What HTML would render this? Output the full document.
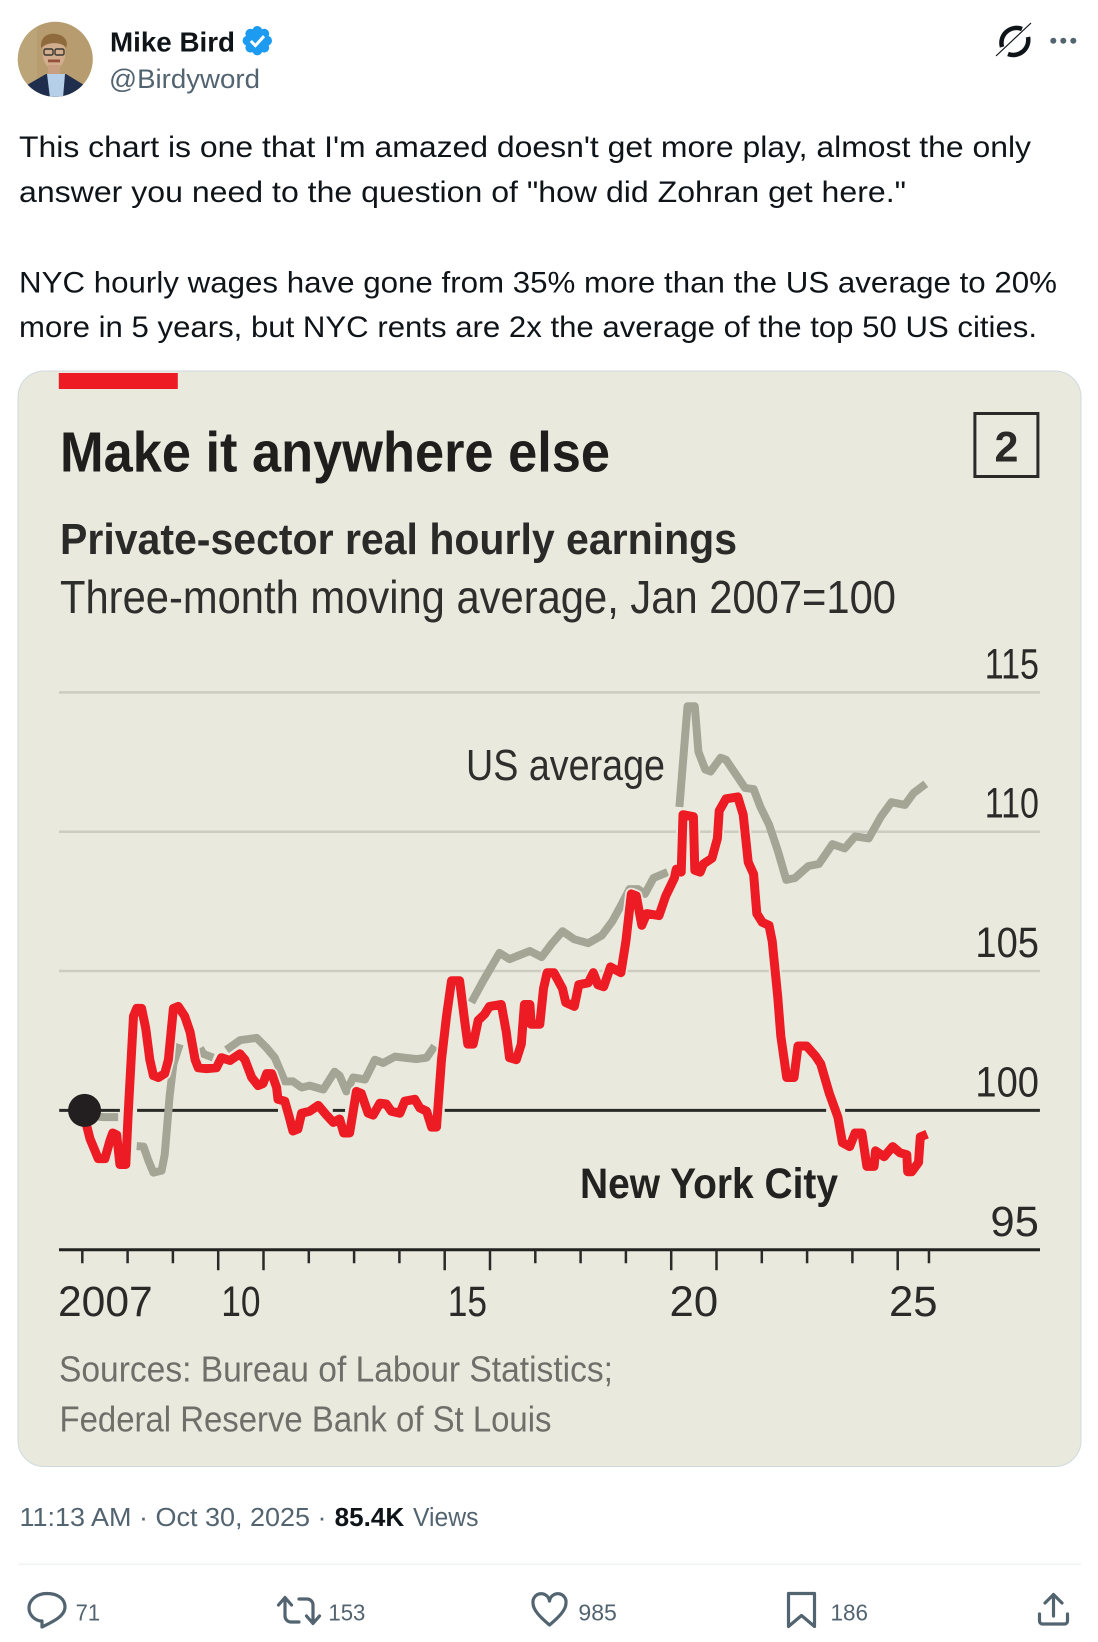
<!DOCTYPE html>
<html lang="en">
<head>
<meta charset="utf-8">
<title>Mike Bird tweet - Make it anywhere else</title>
<style>
html,body{margin:0;padding:0;background:#fff;}
svg{display:block;font-family:"Liberation Sans",Arial,sans-serif;}
</style>
</head>
<body>
<svg id="page" width="1098" height="1642" viewBox="0 0 1098 1642" xmlns="http://www.w3.org/2000/svg">
  <defs>
    <clipPath id="avatar-clip"><circle cx="55.3" cy="59.3" r="37.5"/></clipPath>
  </defs>
  <rect x="0" y="0" width="1098" height="1642" fill="#ffffff"/>

  <g clip-path="url(#avatar-clip)">
    <rect x="15" y="20" width="80" height="80" fill="#b79c6f"/>
    <rect x="15" y="20" width="22" height="80" fill="#bba477"/>
    <path d="M24 100 L27 85 L46 74 L66 74 L84 85 L88 100Z" fill="#1f2e4c"/>
    <path d="M47 74 L65 74 L63 98 L50 98Z" fill="#b5cfe8"/>
    <ellipse cx="54" cy="53" rx="11.5" ry="16" fill="#d2ad8d"/>
    <rect x="48" y="65" width="12" height="9" fill="#c89f80"/>
    <path d="M41 48 C40 35 50 33 56 34 C64 35 69 41 66 48 C63 42 48 41 41 48Z" fill="#8f6a3c"/>
    <g fill="none" stroke="#3a3632" stroke-width="1.400">
      <rect x="44" y="49" width="9" height="6" rx="1.500"/>
      <rect x="55" y="49" width="9" height="6" rx="1.500"/>
    </g>
    <rect x="48" y="59.500" width="12" height="2.800" fill="#94503a"/>
  </g>

  <text x="110" y="51.700" font-size="27.500" font-weight="700" fill="#0f1419" textLength="125" lengthAdjust="spacingAndGlyphs">Mike Bird</text>
  <g fill="#1d9bf0">
    <circle cx="257.300" cy="40.700" r="11.500"/>
    <circle cx="257.300" cy="31" r="5"/><circle cx="257.300" cy="50.400" r="5"/>
    <circle cx="247.600" cy="40.700" r="5"/><circle cx="267" cy="40.700" r="5"/>
    <circle cx="250.400" cy="33.800" r="5"/><circle cx="264.200" cy="33.800" r="5"/>
    <circle cx="250.400" cy="47.600" r="5"/><circle cx="264.200" cy="47.600" r="5"/>
    <path d="M250.800 41 l4.600 4.600 l8.600 -9.400" fill="none" stroke="#fff" stroke-width="3"/>
  </g>
  <text x="109" y="88" font-size="27" fill="#536471" textLength="151" lengthAdjust="spacingAndGlyphs">@Birdyword</text>

  <g fill="none" stroke="#0f1419">
    <path d="M1022 29 A15 15 0 0 0 1002 47" stroke-width="4.500"/>
    <path d="M1008 54 A15 15 0 0 0 1028 37" stroke-width="4.500"/>
    <path d="M996 56 L1031 23" stroke-width="1.200"/>
  </g>
  <g fill="#536471">
    <circle cx="1053.300" cy="40.700" r="3"/><circle cx="1063.300" cy="40.700" r="3"/><circle cx="1073.300" cy="40.700" r="3"/>
  </g>

  <g font-size="30" fill="#0f1419">
    <text x="19" y="157" textLength="1012" lengthAdjust="spacingAndGlyphs">This chart is one that I'm amazed doesn't get more play, almost the only</text>
    <text x="19" y="202" textLength="887" lengthAdjust="spacingAndGlyphs">answer you need to the question of "how did Zohran get here."</text>
    <text x="19" y="292.500" textLength="1038" lengthAdjust="spacingAndGlyphs">NYC hourly wages have gone from 35% more than the US average to 20%</text>
    <text x="19" y="337" textLength="1018" lengthAdjust="spacingAndGlyphs">more in 5 years, but NYC rents are 2x the average of the top 50 US cities.</text>
  </g>

  <rect x="18" y="371" width="1063" height="1095.500" rx="26" ry="26" fill="#eae9de" stroke="#cfd9de" stroke-width="1"/>
  <rect x="58.800" y="373" width="119" height="16" fill="#ed1c24"/>
  <text x="60" y="471.700" font-size="57" font-weight="700" fill="#1f1e1c" textLength="550" lengthAdjust="spacingAndGlyphs">Make it anywhere else</text>
  <rect x="974.900" y="413.500" width="63" height="63" fill="none" stroke="#2a2a28" stroke-width="3"/>
  <text x="1006.400" y="461.700" font-size="43" font-weight="700" fill="#2a2a28" text-anchor="middle">2</text>
  <text x="60" y="554" font-size="44" font-weight="700" fill="#2a2a28" textLength="677" lengthAdjust="spacingAndGlyphs">Private-sector real hourly earnings</text>
  <text x="60" y="613" font-size="46" fill="#2e2e2c" textLength="836" lengthAdjust="spacingAndGlyphs">Three-month moving average, Jan 2007=100</text>

  <g id="chart"></g>

  <text x="466" y="780" font-size="44" fill="#2e2e2c" textLength="199" lengthAdjust="spacingAndGlyphs">US average</text>
  <text x="580" y="1198" font-size="43" font-weight="700" fill="#222220" textLength="258" lengthAdjust="spacingAndGlyphs">New York City</text>

  <text x="59" y="1381.700" font-size="36" fill="#6f6f6a" textLength="554" lengthAdjust="spacingAndGlyphs">Sources: Bureau of Labour Statistics;</text>
  <text x="59.500" y="1431.700" font-size="36" fill="#6f6f6a" textLength="492" lengthAdjust="spacingAndGlyphs">Federal Reserve Bank of St Louis</text>

  <text x="19.500" y="1526" font-size="25.500" fill="#536471" textLength="307" lengthAdjust="spacingAndGlyphs">11:13 AM · Oct 30, 2025 ·</text>
  <text x="334.700" y="1526" font-size="25.500" font-weight="700" fill="#0f1419" textLength="69.500" lengthAdjust="spacingAndGlyphs">85.4K</text>
  <text x="413" y="1526" font-size="25.500" fill="#536471" textLength="65.500" lengthAdjust="spacingAndGlyphs">Views</text>
  <rect x="18" y="1563.500" width="1063" height="1.500" fill="#eff3f4"/>

  <g fill="none" stroke="#536471" stroke-width="3.200" stroke-linejoin="round" stroke-linecap="round">
    <path d="M47 1593.500 c-11 0 -18 7 -18 14.500 c0 7 6 13 13 13 l0 6 c8 -4 23 -10 23 -20 c0 -8 -7 -13.500 -18 -13.500z"/>
    <path d="M278.500 1605 l6.500 -7.500 l6.500 7.500 M285 1598 v18 a6 6 0 0 0 6 6 h8 M319.500 1616 l-6.500 7.500 l-6.500 -7.500 M313 1623 v-18 a6 6 0 0 0 -6 -6 h-8"/>
    <path d="M549.500 1625 C540 1617 533 1610 533 1603 a8.200 8.200 0 0 1 16.500 -2 a8.200 8.200 0 0 1 16.500 2 C566 1610 559 1617 549.500 1625z"/>
    <path d="M788.500 1593.500 h26 v33 l-13 -11 l-13 11z"/>
    <path d="M1053.500 1596 v20 M1045 1603 l8.500 -8.500 l8.500 8.500 M1039.500 1614 v7 a3 3 0 0 0 3 3 h22 a3 3 0 0 0 3 -3 v-7"/>
  </g>
  <g font-size="23.500" fill="#536471">
    <text x="75.600" y="1620.700" textLength="24.500" lengthAdjust="spacingAndGlyphs">71</text>
    <text x="328.400" y="1620.700" textLength="37" lengthAdjust="spacingAndGlyphs">153</text>
    <text x="578.400" y="1620.700" textLength="38.500" lengthAdjust="spacingAndGlyphs">985</text>
    <text x="830.500" y="1620.700" textLength="37.500" lengthAdjust="spacingAndGlyphs">186</text>
  </g>
</svg>

<script>
const nycYears = [2007.06,2007.17,2007.28,2007.35,2007.50,2007.61,2007.67,2007.76,2007.83,2007.96,2008.01,2008.13,2008.20,2008.31,2008.40,2008.49,2008.57,2008.68,2008.82,2008.90,2009.01,2009.12,2009.26,2009.38,2009.49,2009.56,2009.74,2009.96,2010.07,2010.26,2010.48,2010.59,2010.74,2010.88,2010.99,2011.07,2011.18,2011.29,2011.32,2011.47,2011.58,2011.65,2011.76,2011.84,2012.02,2012.21,2012.39,2012.54,2012.68,2012.77,2012.90,2012.98,2013.05,2013.16,2013.31,2013.42,2013.57,2013.71,2013.82,2014.01,2014.12,2014.34,2014.45,2014.60,2014.71,2014.82,2014.93,2015.04,2015.15,2015.33,2015.44,2015.51,2015.63,2015.74,2015.88,2015.99,2016.25,2016.36,2016.43,2016.58,2016.69,2016.76,2016.88,2016.91,2017.10,2017.18,2017.26,2017.41,2017.60,2017.67,2017.86,2017.96,2018.17,2018.28,2018.38,2018.51,2018.66,2018.89,2019.00,2019.12,2019.23,2019.35,2019.46,2019.73,2019.88,2020.07,2020.11,2020.22,2020.26,2020.49,2020.52,2020.64,2020.71,2020.90,2021.02,2021.06,2021.21,2021.47,2021.59,2021.70,2021.82,2021.89,2022.01,2022.16,2022.23,2022.35,2022.42,2022.55,2022.71,2022.80,2022.99,2023.18,2023.30,2023.49,2023.68,2023.78,2023.94,2024.06,2024.21,2024.32,2024.48,2024.51,2024.70,2024.89,2025.05,2025.20,2025.22,2025.31,2025.46,2025.50,2025.65];
const nycValues = [99.69,98.98,98.55,98.27,98.27,98.91,99.19,99.12,98.06,98.06,99.83,103.38,103.66,103.66,102.95,101.82,101.25,101.18,101.32,101.82,103.66,103.73,103.38,102.81,101.82,101.53,101.50,101.53,101.89,101.79,102.03,101.82,101.18,100.89,100.96,101.32,101.32,100.82,100.40,100.33,99.69,99.26,99.33,99.90,99.97,100.18,99.83,99.57,99.69,99.19,99.19,99.97,100.68,100.61,99.90,99.83,100.26,100.23,99.97,99.90,100.33,100.40,100.09,99.97,99.40,99.40,101.82,103.38,104.65,104.65,103.23,102.38,102.38,103.23,103.45,103.73,103.80,102.81,101.89,101.82,102.38,103.80,103.80,103.09,103.09,104.37,104.94,104.94,104.37,103.87,103.73,104.51,104.58,104.94,104.51,104.44,105.15,104.94,106.07,107.77,107.70,106.64,107.06,106.99,107.70,108.34,108.65,108.55,110.61,110.54,108.62,108.55,108.84,109.05,109.76,110.75,111.18,111.25,110.61,108.91,108.48,107.06,106.75,106.64,106.07,104.09,102.67,101.18,101.18,102.31,102.31,101.96,101.67,100.61,99.76,98.84,98.70,99.19,99.19,97.99,97.99,98.55,98.34,98.70,98.48,98.41,97.80,97.80,98.13,99.05,99.15];
const usYears = [2007.06,2007.46,2007.79,null,2008.20,2008.35,2008.46,2008.57,2008.75,2008.82,2008.93,2009.01,2009.15,null,2009.60,2009.67,2009.89,null,2010.18,2010.48,2010.85,2011.07,2011.25,2011.47,2011.65,2011.84,2012.02,2012.32,2012.57,2012.68,2012.83,2012.98,2013.24,2013.46,2013.64,2013.90,2014.38,2014.60,2014.78,null,2015.59,2015.85,2016.21,2016.43,2016.88,2017.14,2017.37,2017.60,2017.86,2018.17,2018.47,2018.70,2018.89,2019.08,2019.27,2019.42,2019.61,2019.92,null,2020.18,2020.30,2020.36,2020.52,2020.60,2020.75,2020.87,2021.09,2021.21,2021.44,2021.63,2021.82,2021.97,2022.16,2022.35,2022.54,2022.73,2023.03,2023.26,2023.56,2023.83,2024.06,2024.36,2024.63,2024.86,2025.16,2025.35,2025.62];
const usValues = [99.83,99.76,99.76,null,98.72,98.70,98.20,97.77,97.84,98.41,100.54,101.67,102.38,null,102.24,102.03,101.89,null,102.17,102.52,102.60,102.24,101.89,101.04,101.04,100.82,100.89,100.75,101.39,101.25,100.68,101.18,101.11,101.82,101.70,101.93,101.84,101.89,102.31,null,103.87,104.65,105.65,105.43,105.72,105.50,106.00,106.43,106.14,106.00,106.28,106.78,107.35,107.94,107.94,107.77,108.34,108.55,null,110.89,113.30,114.50,114.50,112.87,112.23,112.16,112.65,112.58,112.03,111.57,111.53,110.89,110.26,109.33,108.27,108.34,108.77,108.84,109.55,109.40,109.83,109.76,110.54,111.06,110.96,111.39,111.72];
const gridValues = [115,110,105];
const yTickLabels = ['115','110','105','100','95'];
const xTickYears = [2007,2008,2009,2010,2011,2012,2013,2014,2015,2016,2017,2018,2019,2020,2021,2022,2023,2024,2025,2025.69];
const longTickYears = [2010,2011,2015,2016,2020,2021,2025];
const xLabelYears = [2007,2010,2015,2020,2025];
const xTickLabels = ['2007','10','15','20','25'];
const baselineStarts = [2006.49,2008.21,2012.53,2015.00,2023.84];
const baselineEnds = [2007.83,2011.32,2012.80,2023.42,2028.14];
const startYear = 2007.05;
const startValue = 100;

const SVGNS = 'http://www.w3.org/2000/svg';
const chart = document.getElementById('chart');
const xScale = function (year) { return 82.3 + (year - 2007) * 45.3; };
const yScale = function (value) { return 1110.4 - (value - 100) * 27.87; };
const plotLeft = 59;
const plotRight = 1040;
const labelRight = 1039;
const lastTick = xTickYears[xTickYears.length - 1];
const glyphWidth = function (text) {
  let w = 0;
  for (const c of text) { w += (c === '1') ? 15 : 24.3; }
  return w;
};
const make = function (tag, attrs) {
  const el = document.createElementNS(SVGNS, tag);
  for (const k in attrs) { el.setAttribute(k, attrs[k]); }
  chart.appendChild(el);
  return el;
};
const linePath = function (years, values) {
  let d = '';
  let pen = false;
  years.forEach(function (yr, i) {
    if (yr === null || values[i] === null) { pen = false; return; }
    d += (pen ? 'L' : 'M') + xScale(yr).toFixed(1) + ' ' + yScale(values[i]).toFixed(1);
    pen = true;
  });
  return d;
};

gridValues.forEach(function (v) {
  const grid = make('line', { x1: plotLeft, x2: plotRight, y1: yScale(v), y2: yScale(v), stroke: '#cdccc0', 'stroke-width': 2.5 });
  
  
});

baselineStarts.forEach(function (s, i) {
  const seg = make('line', { x1: xScale(s), x2: xScale(baselineEnds[i]), y1: yScale(100), y2: yScale(100), stroke: '#2a2a28', 'stroke-width': 3 });
  
  
});

const axis = make('line', { x1: plotLeft, x2: plotRight, y1: yScale(95), y2: yScale(95), stroke: '#222220', 'stroke-width': 3 });



xTickYears.forEach(function (yr) {
  const len = longTickYears.includes(yr) ? 20.5 : 13.5;
  const tick = make('line', { x1: xScale(yr), x2: xScale(yr), y1: yScale(95), y2: yScale(95) + len, stroke: '#2a2a28', 'stroke-width': 2.5 });
  
  
});

xTickLabels.forEach(function (label, i) {
  const w = label === '2007' ? 94.7 : glyphWidth(label);
  const bandMid = (xLabelYears[i] + Math.min(xLabelYears[i] + 1, lastTick)) / 2;
  const cx = label === '2007' ? 58 + w / 2 : xScale(bandMid);
  const t = make('text', { x: cx - w / 2, y: 1316, 'font-size': 43, fill: '#2a2a28', textLength: w, lengthAdjust: 'spacingAndGlyphs' });
  t.textContent = label;
  
  
});

yTickLabels.forEach(function (label) {
  const w = glyphWidth(label);
  const t = make('text', { x: labelRight - w, y: yScale(Number(label)) - 14, 'font-size': 43, fill: '#2a2a28', textLength: w, lengthAdjust: 'spacingAndGlyphs' });
  t.textContent = label;
  
  
});

const usLine = make('path', { d: linePath(usYears, usValues), fill: 'none', stroke: '#a5a596', 'stroke-width': 8, 'stroke-linejoin': 'round' });



const nycHalo = make('path', { d: linePath(nycYears, nycValues), fill: 'none', stroke: '#eae9de', 'stroke-width': 12.5, 'stroke-linejoin': 'round' });



const nycLine = make('path', { d: linePath(nycYears, nycValues), fill: 'none', stroke: '#ed1c24', 'stroke-width': 9, 'stroke-linejoin': 'round' });



const startDot = make('circle', { cx: xScale(startYear), cy: yScale(startValue), r: 16.5, fill: '#231f20' });


</script>
</body>
</html>
